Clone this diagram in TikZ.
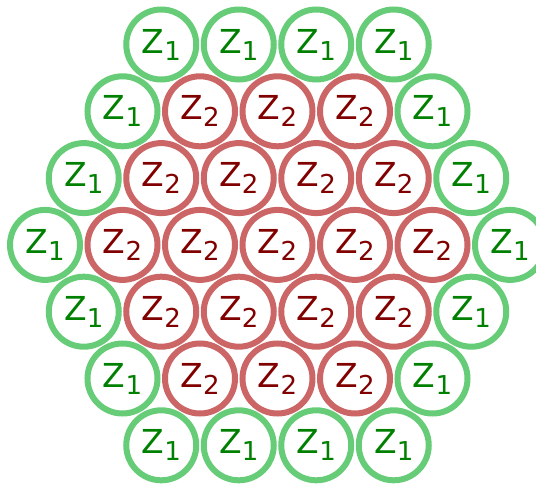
\documentclass[tikz,border=0pt]{standalone}
\usepackage{fontspec}
\setmainfont{DejaVu Sans}
\usepackage{xcolor}
\definecolor{ringgreen}{HTML}{66CC77}
\definecolor{textgreen}{HTML}{008000}
\definecolor{ringred}{HTML}{CC6666}
\definecolor{textred}{HTML}{800000}
\newcommand{\zone}[1]{Z\raisebox{-7pt}{\fontsize{26}{26}\selectfont #1}}
\tikzset{
  cell/.style  = {circle, line width=6pt, minimum size=70pt, inner sep=0pt,
                  font=\fontsize{33}{33}\selectfont},
  zoneA/.style = {cell, draw=ringgreen, text=textgreen},
  zoneB/.style = {cell, draw=ringred, text=textred}
}

\begin{document}
\begin{tikzpicture}[x=1pt, y=1pt]
  \useasboundingbox (0,0) rectangle (536,-484);
  % hexagon of 7 rows, outer ring is zone 1
  \foreach \r in {0,...,6} {
    \pgfmathtruncatemacro{\n}{7-abs(\r-3)}
    \pgfmathtruncatemacro{\last}{\n-1}
    \foreach \k in {0,...,\last} {
      \pgfmathsetmacro{\x}{277.5+(\k-(\n-1)/2)*77.5}
      \pgfmathsetmacro{\y}{-44.5-\r*66.8}
      \pgfmathtruncatemacro{\edge}{(\r==0)||(\r==6)||(\k==0)||(\k==\last)}
      \ifnum\edge=1
        \node[zoneA] (c-\r-\k) at (\x,\y) {\zone{1}};
      \else
        \node[zoneB] (c-\r-\k) at (\x,\y) {\zone{2}};
      \fi
    }
  }
\end{tikzpicture}
\end{document}
